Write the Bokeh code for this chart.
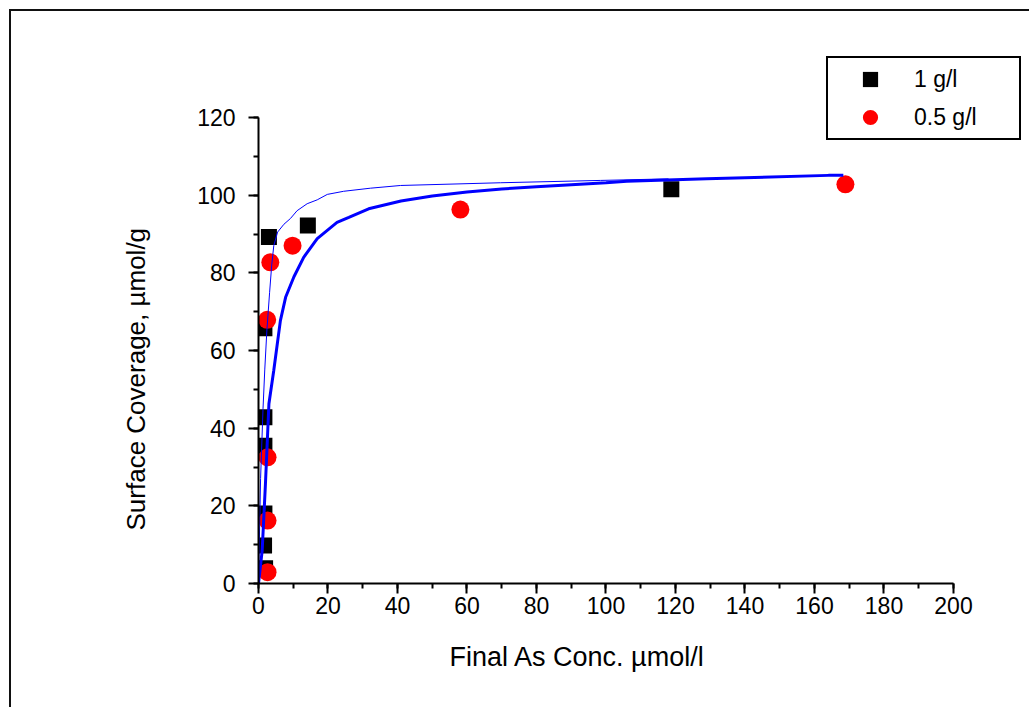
from bokeh.plotting import figure
from bokeh.models import Legend, LegendItem, SingleIntervalTicker, Range1d, Title
from bokeh.embed import file_html
from bokeh.resources import INLINE

# ---- data ----
sq_x = [1.9, 1.6, 1.7, 1.7, 1.7, 1.7, 3.0, 14.2, 118.8]
sq_y = [3.9, 9.8, 18.0, 35.5, 42.8, 65.7, 89.2, 92.2, 101.5]

circ_x = [2.6, 2.6, 2.6, 2.5, 3.4, 9.8, 58.1, 168.9]
circ_y = [2.9, 16.2, 32.5, 67.9, 82.7, 87.0, 96.3, 102.8]

thin_x = [0, 0.6, 1.3, 1.8, 2.4, 3.2, 3.8, 4.4, 5.5, 7.3, 9.2, 11.1, 14.0, 16.9, 19.8, 24.5, 32.2, 40.9, 69.6, 98.4, 118.0]
thin_y = [0, 27.0, 45.0, 55.0, 65.0, 75.0, 82.0, 87.0, 90.5, 92.5, 94.0, 96.0, 97.8, 98.8, 100.2, 101.0, 101.8, 102.5, 103.2, 103.8, 104.2]

thick_x = [0, 1.06, 2.0, 3.0, 4.4, 6.3, 7.8, 10.2, 13.0, 16.9, 22.6, 26.0, 31.7, 41.0, 50.0, 60.0, 70.0, 80.0, 90.0, 100.0, 106.0, 129.0, 164.0, 168.3]
thick_y = [0, 8.5, 25.7, 46.3, 54.9, 67.7, 73.7, 79.0, 84.0, 88.8, 93.0, 94.3, 96.5, 98.5, 99.8, 100.8, 101.6, 102.2, 102.7, 103.2, 103.6, 104.2, 105.1, 105.1]

labels = ["1 g/l", "0.5 g/l"]
x_title = "Final As Conc. µmol/l"
y_title = "Surface Coverage, µmol/g"

FONT = "Liberation Sans"

# axes run 0-200 and 0-120; the frame is a bit larger so the legend box
# (which sits above/right of the axes in the reference) is not clipped
X_AX = (0, 200)
Y_AX = (0, 120)

p = figure(width=1020, height=698, output_backend="svg", toolbar_location=None,
           x_range=Range1d(0, 219.86), y_range=Range1d(0, 135.97),
           min_border_left=247, min_border_right=9,
           min_border_top=44, min_border_bottom=126)
p.margin = (9, 0, 0, 9)
p.styles = {"border-left": "2px solid #111", "border-top": "2px solid #111"}
p.outline_line_color = None
p.xgrid.visible = False
p.ygrid.visible = False
p.background_fill_color = "white"
p.border_fill_color = "white"

p.xaxis.ticker = SingleIntervalTicker(interval=20, num_minor_ticks=2)
p.yaxis.ticker = SingleIntervalTicker(interval=20, num_minor_ticks=2)
p.xaxis.bounds = X_AX
p.yaxis.bounds = Y_AX

for ax in (p.xaxis[0], p.yaxis[0]):
    ax.axis_line_width = 2
    ax.axis_line_color = "black"
    ax.major_tick_out = 10
    ax.major_tick_in = 0
    ax.minor_tick_out = 5
    ax.minor_tick_in = 0
    ax.major_tick_line_width = 2
    ax.minor_tick_line_width = 2
    ax.major_tick_line_color = "black"
    ax.minor_tick_line_color = "black"
    ax.major_label_text_font = FONT
    ax.major_label_text_font_size = "23px"
    ax.major_label_text_color = "black"

p.xaxis.major_label_standoff = 3
p.yaxis.major_label_standoff = 13

# axis titles placed as side-panel titles so they can be positioned precisely
ytitle = Title(text=y_title, align="left", offset=53, vertical_align="bottom",
               standoff=88, text_font=FONT, text_font_size="26px",
               text_font_style="normal", text_color="black")
p.add_layout(ytitle, "left")
xtitle = Title(text=x_title, align="left", offset=191, vertical_align="top",
               standoff=50, text_font=FONT, text_font_size="27px",
               text_font_style="normal", text_color="black")
p.add_layout(xtitle, "below")

sq = p.scatter(sq_x, sq_y, marker="square", size=16, fill_color="black", line_color=None)
ci = p.scatter(circ_x, circ_y, marker="circle", size=18, fill_color="#ff0000", line_color=None)
p.line(thin_x, thin_y, line_color="#0000ff", line_width=1)
p.line(thick_x, thick_y, line_color="#0000ff", line_width=3)

legend = Legend(items=[LegendItem(label=labels[0], renderers=[sq]),
                       LegendItem(label=labels[1], renderers=[ci])],
                location=(568, 443))
legend.border_line_color = "black"
legend.border_line_width = 2
legend.border_line_alpha = 1
legend.background_fill_color = "white"
legend.background_fill_alpha = 1
legend.label_text_font = FONT
legend.label_text_font_size = "23px"
legend.label_text_color = "black"
legend.glyph_height = 38
legend.glyph_width = 80
legend.spacing = 0
legend.padding = 2
legend.margin = 0
legend.label_standoff = 4
legend.label_width = 103
p.add_layout(legend)

open("out.html", "w").write(file_html(p, INLINE))
